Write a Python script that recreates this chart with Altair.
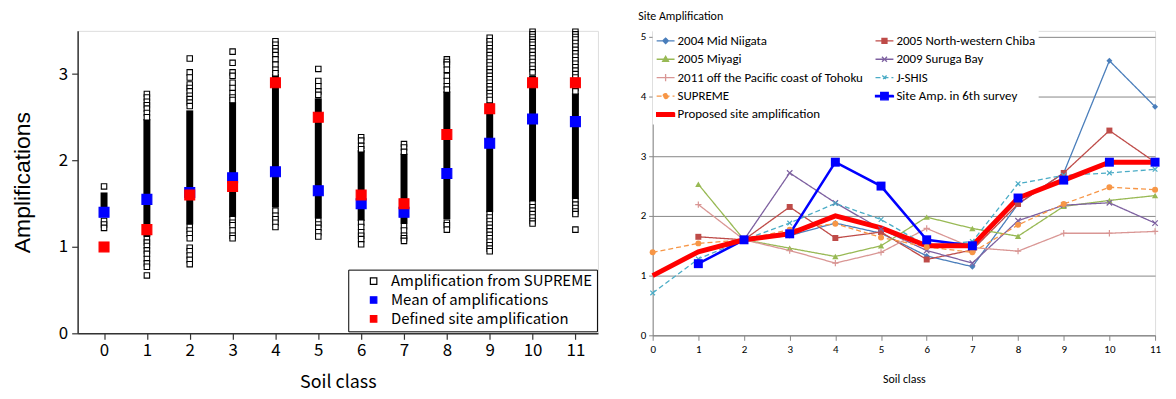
import altair as alt
import pandas as pd

# ---------------- data: left panel ----------------
classes = list(range(12))
mean_amp = [1.40, 1.55, 1.63, 1.80, 1.87, 1.65, 1.50, 1.40, 1.85, 2.20, 2.48, 2.45]
defined_amp = [1.0, 1.2, 1.6, 1.7, 2.9, 2.5, 1.6, 1.5, 2.3, 2.6, 2.9, 2.9]
dense_lo = [1.35, 1.12, 1.26, 1.34, 1.46, 1.33, 1.30, 1.27, 1.32, 1.40, 1.52, 1.55]
dense_hi = [1.63, 2.48, 2.58, 2.68, 3.00, 2.72, 2.12, 2.08, 2.80, 2.67, 2.98, 2.78]
sparse_amp = {
    0: [1.70, 1.30, 1.26, 1.22],
    1: [2.77, 2.73, 2.68, 2.64, 2.60, 2.55, 2.50,
        1.09, 1.05, 1.01, 0.96, 0.92, 0.86, 0.81, 0.77, 0.67],
    2: [3.18, 3.02, 2.96, 2.88, 2.84, 2.80, 2.75, 2.71, 2.67, 2.63,
        1.23, 1.19, 1.15, 1.10, 0.99, 0.95, 0.90, 0.85, 0.80],
    3: [3.26, 3.13, 3.02, 2.98, 2.90, 2.84, 2.78, 2.73, 2.70,
        1.32, 1.28, 1.25, 1.19, 1.13, 1.10],
    4: [3.38, 3.34, 3.30, 3.26, 3.22, 3.17, 3.11, 3.05, 3.01,
        1.42, 1.36, 1.32, 1.28, 1.23],
    5: [3.06, 2.92, 2.86, 2.80, 2.76, 1.30, 1.26, 1.22, 1.17, 1.12],
    6: [2.27, 2.23, 2.17, 2.13, 1.28, 1.23, 1.17, 1.13, 1.09, 1.03],
    7: [2.19, 2.15, 2.10, 1.24, 1.19, 1.13, 1.10, 1.07],
    8: [3.17, 3.14, 3.11, 3.05, 2.98, 2.92, 2.86, 2.82, 1.28, 1.25, 1.20],
    9: [3.42, 3.38, 3.34, 3.30, 3.26, 3.22, 3.18, 3.14, 3.10, 3.06, 3.02,
        2.98, 2.94, 2.90, 2.86, 2.82, 2.78, 2.74, 2.70,
        1.38, 1.34, 1.30, 1.26, 1.22, 1.18, 1.14, 1.10, 1.06, 1.02, 0.98, 0.95],
    10: [3.49, 3.46, 3.43, 3.40, 3.37, 3.34, 3.30, 3.26, 3.22, 3.18, 3.14,
         3.10, 3.06, 3.02, 1.50, 1.46, 1.42, 1.38, 1.34, 1.30, 1.27],
    11: [3.49, 3.46, 3.43, 3.40, 3.36, 3.32, 3.28, 3.24, 3.20, 3.16, 3.12,
         3.08, 3.04, 3.00, 2.96, 2.92, 2.88, 2.84, 2.80,
         1.53, 1.49, 1.45, 1.41, 1.38, 1.20],
}
kinds = ["Amplification from SUPREME", "Mean of amplifications",
         "Defined site amplification"]

# ---------------- data: right panel ----------------
series_names = ["2004 Mid Niigata", "2005 North-western Chiba", "2005 Miyagi",
                "2009 Suruga Bay", "2011 off the Pacific coast of Tohoku",
                "J-SHIS", "SUPREME", "Site Amp. in 6th survey",
                "Proposed site amplification"]
niigata = [None, None, 1.60, 1.67, 1.88, 1.71, 1.33, 1.15, 2.20, 2.72, 4.60, 3.83]
chiba = [None, 1.65, 1.60, 2.15, 1.63, 1.73, 1.27, 1.43, 2.20, 2.72, 3.43, 2.90]
miyagi = [None, 2.53, 1.60, 1.46, 1.32, 1.50, 1.98, 1.79, 1.66, 2.16, 2.26, 2.34]
suruga = [None, None, 1.60, 2.72, 2.22, 1.78, 1.42, 1.21, 1.92, 2.18, 2.22, 1.88]
tohoku = [None, 2.19, 1.60, 1.42, 1.21, 1.39, 1.79, 1.47, 1.41, 1.71, 1.71, 1.74]
jshis = [0.71, 1.28, 1.60, 1.88, 2.21, 1.94, 1.50, 1.57, 2.54, 2.68, 2.72, 2.78]
supreme = [1.39, 1.54, 1.60, 1.77, 1.87, 1.64, 1.48, 1.39, 1.85, 2.20, 2.48, 2.44]
survey6 = [None, 1.2, 1.6, 1.7, 2.9, 2.5, 1.6, 1.5, 2.3, 2.6, 2.9, 2.9]
proposed = [1.0, 1.4, 1.6, 1.7, 2.0, 1.8, 1.5, 1.5, 2.3, 2.6, 2.9, 2.9]
series_vals = [niigata, chiba, miyagi, suruga, tohoku, jshis, supreme, survey6, proposed]

# ---------------- styles ----------------
JP = "Noto Sans CJK JP, Liberation Sans Narrow, sans-serif"
ARIAL = "Liberation Sans, Arial, sans-serif"
CAL = "Carlito, Calibri, Lato, sans-serif"
GRAY = "#868686"

colors = ["#4A7EBB", "#BE4B48", "#98B954", "#7D60A0", "#D99694",
          "#4BACC6", "#F79646", "#0000FF", "#FF0000"]
dashes = [[1, 0], [1, 0], [1, 0], [1, 0], [1, 0], [5, 3], [5, 3], [1, 0], [1, 0]]
widths = [1.3, 1.3, 1.3, 1.3, 1.3, 1.3, 1.3, 2.5, 5]
marker_shape = ["diamond", "square", "triangle-up",
                "M-1,-1L1,1M1,-1L-1,1", "M-1,0H1M0,-1V1",
                "M-1,-1L1,1M1,-1L-1,1", "circle", "square", None]
marker_filled = [True, True, True, False, False, False, True, True, None]
marker_size = [36, 36, 40, 30, 40, 22, 36, 81, None]
legend_paths = [
    "M-1,0L1,0M0,-0.31L0.31,0L0,0.31L-0.31,0Z",
    "M-1,0L1,0M-0.28,-0.28H0.28V0.28H-0.28Z",
    "M-1,0L1,0M0,-0.33L0.33,0.24L-0.33,0.24Z",
    "M-1,0L1,0M-0.28,-0.28L0.28,0.28M0.28,-0.28L-0.28,0.28",
    "M-1,0L1,0M0,-0.4V0.4",
    "M-1,0L1,0M-0.24,-0.24L0.24,0.24M0.24,-0.24L-0.24,0.24",
    "M-1,0L1,0M0.28,0A0.28,0.28,0,1,1,-0.28,0A0.28,0.28,0,1,1,0.28,0Z",
    "M-1,-0.08H1V0.08H-1ZM-0.42,-0.42H0.42V0.42H-0.42Z",
    "M-1,-0.2H1V0.2H-1Z",
]
# legend is filled column by column: order entries so rows read like the original
legend_order = [0, 2, 4, 6, 8, 1, 3, 5, 7]

# ---------------- left panel ----------------
sp_rows = [{"cls": c, "amp": v} for c in classes for v in sparse_amp[c]]
sparse_df = pd.DataFrame(sp_rows)
key_rows = ([{"cls": c, "amp": v, "kind": kinds[1]} for c, v in zip(classes, mean_amp)]
            + [{"cls": c, "amp": v, "kind": kinds[2]} for c, v in zip(classes, defined_amp)])
key_df = pd.DataFrame(key_rows)
dense = pd.DataFrame({"cls": classes, "amp": dense_lo, "amp_hi": dense_hi})

xL = alt.X("cls:Q", scale=alt.Scale(domain=[-0.5, 11.41], nice=False, zero=False),
           axis=alt.Axis(values=classes, format="d", title="Soil class", grid=False,
                         labelFont=JP, labelFontSize=17, labelColor="black",
                         titleFont=JP, titleFontSize=18, titleFontWeight="normal",
                         titleColor="black", titlePadding=15, tickSize=6, labelPadding=3,
                         domainColor="#333", domainWidth=1.5, tickColor="#333",
                         tickWidth=1.2, labelFlush=False))
yL = alt.Y("amp:Q", scale=alt.Scale(domain=[0, 3.5], nice=False, zero=True),
           axis=alt.Axis(values=[0, 0.5, 1, 1.5, 2, 2.5, 3], format="d",
                         labelExpr="datum.value % 1 === 0 ? datum.label : ''",
                         title="Amplifications", grid=False,
                         labelFont=JP, labelFontSize=17, labelColor="black",
                         titleFont=ARIAL, titleFontSize=23, titleFontWeight="normal",
                         titleColor="black", titleX=-55, titleBaseline="middle",
                         tickSize={"condition": {"test": "datum.value % 1 === 0", "value": 6},
                                   "value": 3},
                         labelPadding=4, domainColor="#333", domainWidth=1.5,
                         tickColor="#333", tickWidth=1.2))

left_legend = alt.Legend(title=None, orient="none", legendX=272, legendY=240,
                         strokeColor="black", fillColor="white", padding=4,
                         symbolOffset=14, labelOffset=10, labelFont=JP,
                         labelFontSize=15, labelColor="black", rowPadding=3,
                         symbolSize=42, symbolType="square", symbolStrokeWidth=1.2,
                         labelLimit=400, symbolOpacity=1)

bars = alt.Chart(dense).mark_bar(color="black", width=7).encode(
    x=xL, y=yL, y2="amp_hi:Q")
sparse_pts = alt.Chart(sparse_df).mark_square(
    size=30, fill="white", stroke="black", strokeWidth=1.1, opacity=1
).encode(x=xL, y=yL)
key_pts = alt.Chart(key_df).mark_square(size=100, strokeWidth=1.1, opacity=1).encode(
    x=xL, y=yL,
    fill=alt.Fill("kind:N", scale=alt.Scale(domain=kinds, range=["white", "#0000FF", "#FF0000"]),
                  legend=left_legend),
    stroke=alt.Stroke("kind:N", scale=alt.Scale(domain=kinds, range=["black", "#0000FF", "#FF0000"]),
                      legend=left_legend),
)
left = alt.layer(bars, sparse_pts, key_pts).properties(width=523, height=304)

# ---------------- right panel ----------------
lrows = []
for name, vals in zip(series_names, series_vals):
    for c, v in zip(classes, vals):
        if v is not None:
            lrows.append({"cls": c, "amp": v, "series": name})
lines = pd.DataFrame(lrows)

xR = alt.X("cls:Q", scale=alt.Scale(domain=[0, 11], nice=False, zero=False),
           axis=alt.Axis(values=classes, format="d", title="Soil class", grid=False,
                         labelFont=CAL, labelFontSize=11, labelColor="black",
                         titleFont=CAL, titleFontSize=12, titleFontWeight="normal",
                         titleColor="black", titlePadding=19, tickSize=5, labelPadding=3,
                         domainColor=GRAY, tickColor=GRAY, labelFlush=False))
yR = alt.Y("amp:Q", scale=alt.Scale(domain=[0, 5.1], nice=False, zero=True),
           axis=alt.Axis(values=[0, 1, 2, 3, 4, 5], title="Site Amplification",
                         grid=True, gridColor=GRAY, gridWidth=1,
                         labelFont=CAL, labelFontSize=11, labelColor="black",
                         titleFont=CAL, titleFontSize=12, titleFontWeight="normal",
                         titleColor="black", titleAngle=0, titleAlign="left",
                         titleBaseline="middle", titleX=-15, titleY=-15,
                         tickSize=4, labelPadding=3, domainColor=GRAY, tickColor=GRAY))

leg_domain = [series_names[i] for i in legend_order]
leg_colors = [colors[i] for i in legend_order]
leg_dashes = [dashes[i] for i in legend_order]
leg_paths = [legend_paths[i] for i in legend_order]

right_legend = alt.Legend(
    title=None, orient="none", legendX=0, legendY=-3, columns=2,
    fillColor="white", padding=3, symbolSize=324, labelOffset=2,
    labelFont=CAL, labelFontSize=13, labelColor="black", rowPadding=1.5,
    columnPadding=9, labelLimit=400, symbolOpacity=1, symbolStrokeWidth=1.3,
)
color_scale = alt.Scale(domain=leg_domain, range=leg_colors)
dash_scale = alt.Scale(domain=leg_domain, range=leg_dashes)

thin = series_names[:7]
base_lines = alt.Chart(lines).transform_filter(
    alt.FieldOneOfPredicate(field="series", oneOf=thin)
).mark_line(strokeWidth=1.3).encode(
    x=xR, y=yR,
    stroke=alt.Stroke("series:N", scale=color_scale, legend=right_legend),
    strokeDash=alt.StrokeDash("series:N", scale=dash_scale, legend=right_legend),
)
# legend-only layer: no rows, explicit scale domains give the legend entries
legend_layer = alt.Chart(lines).transform_filter("false").mark_point(
    filled=True, opacity=1
).encode(
    x=xR, y=yR,
    fill=alt.Fill("series:N", scale=color_scale, legend=right_legend),
    stroke=alt.Stroke("series:N", scale=color_scale, legend=right_legend),
    shape=alt.Shape("series:N", scale=alt.Scale(domain=leg_domain, range=leg_paths),
                    legend=right_legend),
    strokeDash=alt.StrokeDash("series:N", scale=dash_scale, legend=right_legend),
)
layers = [base_lines]
for i in (7, 8):
    layers.append(alt.Chart(lines).transform_filter(
        alt.datum.series == series_names[i]
    ).mark_line(color=colors[i], strokeWidth=widths[i]).encode(x=xR, y=yR))
for i in range(8):
    layers.append(alt.Chart(lines).transform_filter(
        alt.datum.series == series_names[i]
    ).mark_point(shape=marker_shape[i], filled=marker_filled[i], size=marker_size[i],
                 color=colors[i], strokeWidth=1.2, opacity=1).encode(x=xR, y=yR))
layers.append(legend_layer)
right = alt.layer(*layers).properties(width=505, height=306)

chart = alt.hconcat(left, right, spacing=55, bounds="flush").resolve_scale(
    x="independent", y="independent", fill="independent",
    stroke="independent", strokeDash="independent", shape="independent"
).properties(padding={"left": 3, "top": 0, "right": 2, "bottom": 0}
).configure_view(stroke=None).configure(background="white")

chart.save("out.html", embed_options={"renderer": "svg", "actions": False})
